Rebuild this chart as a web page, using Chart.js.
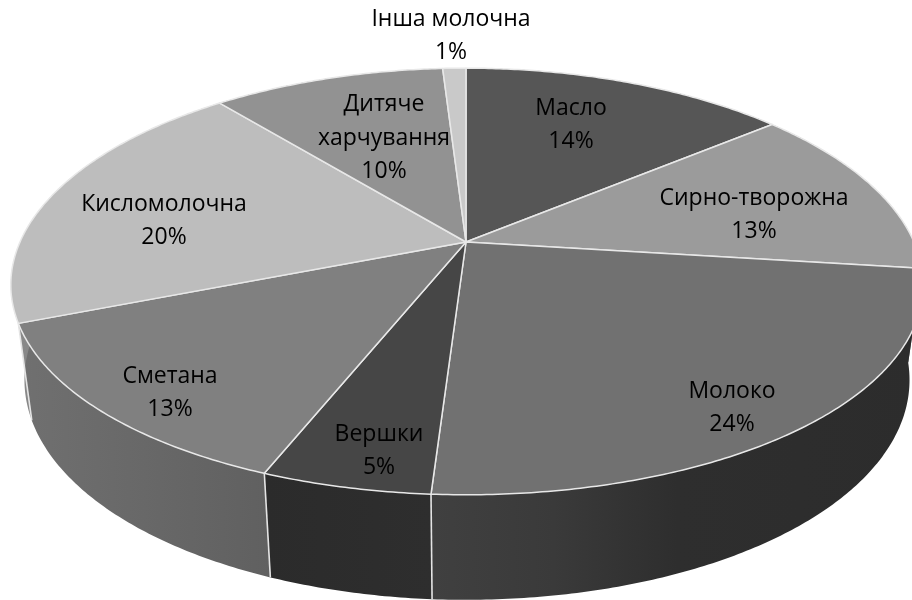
<!DOCTYPE html>
<html>
<head>
<meta charset="utf-8">
<style>html,body{margin:0;padding:0;background:#fff}canvas{display:block}</style>
<script src="https://cdn.jsdelivr.net/npm/chart.js@4"></script>
</head>
<body>
<canvas id="c" width="912" height="600"></canvas>
<script>
const categories = ["Масло","Сирно-творожна","Молоко","Вершки","Сметана","Кисломолочна","Дитяче харчування","Інша молочна"];
const values = [14,13,24,5,13,20,10,1];
const labelLines = [["Масло"],["Сирно-творожна"],["Молоко"],["Вершки"],["Сметана"],["Кисломолочна"],["Дитяче","харчування"],["Інша молочна"]];
const topColors = ["#565656","#9b9b9b","#717171","#464646","#808080","#bdbdbd","#929292","#c9c9c9"];
const wallStops = [
  [[0,"#3a3a3a"],[1,"#3a3a3a"]],
  [[0,"#606060"],[1,"#606060"]],
  [[0,"#404040"],[0.25,"#3a3a3a"],[0.5,"#2e2e2e"],[1,"#2c2c2c"]],
  [[0,"#2b2b2b"],[1,"#2e2e2e"]],
  [[0,"#707070"],[1,"#606060"]],
  [[0,"#8a8a8a"],[1,"#707070"]],
  [[0,"#606060"],[1,"#606060"]],
  [[0,"#808080"],[1,"#808080"]]
];
const labelAt = [[571,125],[754,215],[732,408],[379,451],[170,393],[164,221],[384,138],[451,36]];

const APEX_X=466, APEX_Y=242, A_RIGHT=448, A_LEFT=446, B=206, KX=0.2, KY=0.185;
function rim(angle){
  const th=angle+Math.PI/2, X=Math.sin(th), Y=Math.cos(th), A=X<0?A_LEFT:A_RIGHT;
  return [APEX_X+A*X/(1+KX*Y), APEX_Y-B*Y/(1+KY*Y)];
}
function low(p){
  return [APEX_X+0.97*(p[0]-APEX_X), p[1]+97+0.047*(p[1]-323)];
}
function sample(a0,a1){
  const n=Math.max(2,Math.ceil(Math.abs(a1-a0)/0.01)), pts=[];
  for(let i=0;i<=n;i++) pts.push(rim(a0+(a1-a0)*i/n));
  return pts;
}
function trace(ctx,pts){pts.forEach((p,i)=>i?ctx.lineTo(p[0],p[1]):ctx.moveTo(p[0],p[1]));}

const projected={
  id:'projected',
  beforeDatasetDraw(chart){
    const ctx=chart.ctx, arcs=chart.getDatasetMeta(0).data;
    ctx.save();
    ctx.lineJoin='round';
    // side walls
    arcs.forEach((arc,i)=>{
      const pts=sample(arc.startAngle,arc.endAngle), bot=pts.map(low);
      const xs=pts.concat(bot).map(p=>p[0]);
      const g=ctx.createLinearGradient(Math.min(...xs),0,Math.max(...xs),0);
      wallStops[i].forEach(s=>g.addColorStop(s[0],s[1]));
      ctx.beginPath(); trace(ctx,pts.concat(bot.slice().reverse())); ctx.closePath();
      ctx.fillStyle=g; ctx.fill();
    });
    // vertical joints between walls
    ctx.strokeStyle='#e4e4e4'; ctx.lineWidth=1.6;
    arcs.forEach(arc=>{
      const p=rim(arc.startAngle), q=low(p);
      if(p[1]<APEX_Y+70) return;
      ctx.beginPath(); ctx.moveTo(p[0],p[1]); ctx.lineTo(q[0],q[1]); ctx.stroke();
    });
    // top faces
    arcs.forEach((arc,i)=>{
      const pts=sample(arc.startAngle,arc.endAngle);
      ctx.beginPath(); ctx.moveTo(APEX_X,APEX_Y); pts.forEach(p=>ctx.lineTo(p[0],p[1])); ctx.closePath();
      ctx.fillStyle=topColors[i]; ctx.fill();
      ctx.strokeStyle='#e8e8e8'; ctx.lineWidth=1.5; ctx.stroke();
    });
    // labels
    ctx.fillStyle='#000'; ctx.textAlign='center'; ctx.textBaseline='middle';
    ctx.font='23px "Open Sans"';
    arcs.forEach((arc,i)=>{
      const lines=labelLines[i].concat([values[i]+'%']), [x,y]=labelAt[i];
      lines.forEach((t,j)=>ctx.fillText(t,x,y+(j-(lines.length-1)/2)*33.5));
    });
    ctx.restore();
    return false;
  }
};

new Chart(document.getElementById('c'),{
  type:'pie',
  data:{labels:categories,datasets:[{data:values,backgroundColor:topColors,clip:false}]},
  options:{responsive:false,animation:false,devicePixelRatio:1,layout:{padding:0},
    plugins:{legend:{display:false},tooltip:{enabled:false}}},
  plugins:[projected]
});
</script>
</body>
</html>
